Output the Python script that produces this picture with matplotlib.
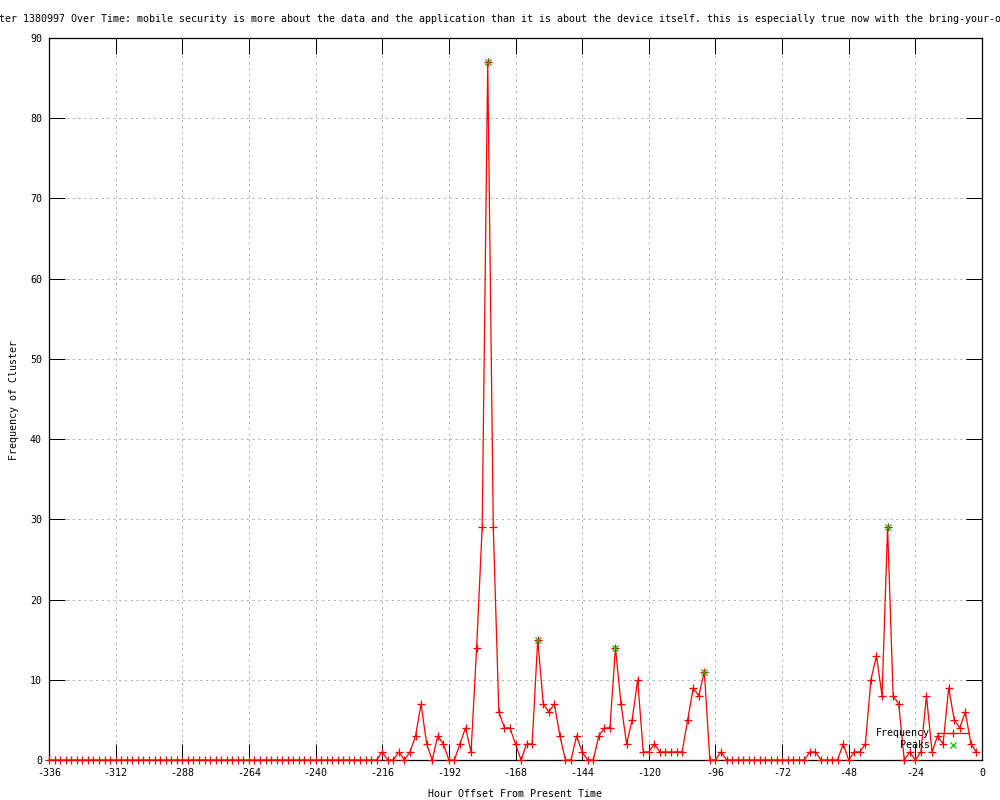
import matplotlib
matplotlib.use('Agg')
import matplotlib.pyplot as plt

# Frequency of the cluster, one value every 2 hours from -336 to -2
hours = list(range(-336, 0, 2))
freq = (
    [0] * 60 +                                    # -336 .. -218
    [1, 0, 0, 1, 0, 1, 3, 7, 2, 0, 3, 2, 0, 0,    # -216 .. -190
     2, 4, 1, 14, 29, 87, 29, 6, 4, 4, 2, 0,      # -188 .. -166
     2, 2, 15, 7, 6, 7, 3, 0, 0, 3, 1, 0, 0,      # -164 .. -140
     3, 4, 4, 14, 7, 2, 5, 10, 1, 1, 2, 1, 1,     # -138 .. -114
     1, 1, 1, 5, 9, 8, 11, 0, 0, 1] +             # -112 .. -94
    [0] * 15 +                                    # -92 .. -64
    [1, 1, 0, 0, 0, 0, 2, 0, 1, 1, 2, 10, 13,     # -62 .. -38
     8, 29, 8, 7, 0, 1, 0, 1, 8, 1, 3, 2, 9,      # -36 .. -12
     5, 4, 6, 2, 1]                               # -10 .. -2
)

peak_hours = [-178, -160, -132, -100, -34]
peak_freq = [87, 15, 14, 11, 29]

x_ticks = list(range(-336, 1, 24))
y_ticks = list(range(0, 91, 10))

title = ("ter 1380997 Over Time: mobile security is more about the data and the "
         "application than it is about the device itself. this is especially true "
         "now with the bring-your-o")

mono = 'DejaVu Sans Mono'
fs = 7.2
plt.rcParams['font.family'] = [mono]

fig = plt.figure(figsize=(10, 8), dpi=100)
ax = fig.add_axes([0.049, 0.05, 0.933, 0.9025])

ax.plot(hours, freq, color='red', linewidth=0.9, marker='+', markersize=5.5,
        markeredgewidth=0.9, clip_on=False, label='Frequency', zorder=3)
ax.plot(peak_hours, peak_freq, linestyle='none', marker='x', color='#00c000',
        markersize=5, markeredgewidth=0.9, clip_on=False, label='    Peaks', zorder=4)

ax.set_xlim(-336, 0)
ax.set_ylim(0, 90)
ax.set_xticks(x_ticks)
ax.set_xticklabels([str(t) for t in x_ticks])
ax.set_yticks(y_ticks)
ax.set_yticklabels([str(t) for t in y_ticks])
ax.tick_params(axis='both', direction='in', length=11.5, width=0.72,
               top=True, right=True, labelsize=fs, colors='black')
ax.tick_params(axis='x', pad=6)
ax.tick_params(axis='y', pad=5)

# dotted gnuplot-style grid
ax.grid(True, color='#b0b0b0', linewidth=0.72, linestyle=(0, (2.2, 3.6)))
ax.set_axisbelow(True)
for s in ax.spines.values():
    s.set_linewidth(0.9)
    s.set_color('black')

fig.text(0.5, 1 - 19 / 800, title, ha='center', va='center', fontsize=fs)
fig.text(0.5155, 1 - 797 / 800, 'Hour Offset From Present Time',
         ha='center', va='baseline', fontsize=fs)
fig.text(0.014, 0.5, 'Frequency of Cluster', rotation=90,
         ha='center', va='center', fontsize=fs)

ax.legend(loc='center right', bbox_to_anchor=(0.969, 1 - 739 / 800),
          bbox_transform=fig.transFigure, frameon=False, markerfirst=False,
          numpoints=1, prop={'family': mono, 'size': fs}, borderpad=0,
          borderaxespad=0, handlelength=3.2, handletextpad=0.7, labelspacing=0.2)

fig.savefig('out.png', dpi=100)
plt.close(fig)
